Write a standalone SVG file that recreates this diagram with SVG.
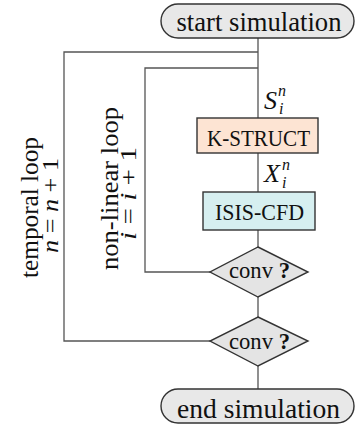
<svg xmlns="http://www.w3.org/2000/svg" width="356" height="425" viewBox="0 0 356 425" font-family="'Liberation Serif', 'DejaVu Serif', serif">
<style>
text{font-family:'Liberation Serif','DejaVu Serif',serif;fill:#111}
.node{stroke:#333;stroke-width:1.4}
.term{fill:#e8e8e8}
.dia{fill:#e4e4e4}
.lbl{text-anchor:middle}
.conn{fill:none;stroke:#555;stroke-width:1.3}
.mi{font-style:italic}
</style>
<rect width="356" height="425" fill="#fff"/>
<g id="connectors">
<path class="conn" d="M258 38V118M258 153V192M258 230V247M258 297V317M258 366V389"/>
<path class="conn" d="M258 52H64V341H210"/>
<path class="conn" d="M258 68H145V272H210"/>
</g>
<g id="start">
<rect class="node term" x="161" y="4" width="193" height="34" rx="17" ry="17"/>
<text class="lbl" x="259" y="31" font-size="28" textLength="165" lengthAdjust="spacingAndGlyphs">start simulation</text>
</g>
<g id="kstruct">
<rect class="node" fill="#fde4d3" x="197" y="118" width="121" height="35"/>
<text class="lbl" x="258.5" y="146" font-size="24" textLength="103" lengthAdjust="spacingAndGlyphs">K-STRUCT</text>
</g>
<g id="isiscfd">
<rect class="node" fill="#d6eff0" x="203" y="192" width="112" height="38"/>
<text class="lbl" x="259.5" y="220" font-size="24" textLength="89" lengthAdjust="spacingAndGlyphs">ISIS-CFD</text>
</g>
<g id="conv1">
<polygon class="node dia" points="258,247 308,272 258,297 210,272"/>
<text class="lbl" x="259.5" y="278" font-size="23" textLength="61" lengthAdjust="spacingAndGlyphs">conv  <tspan font-weight="bold">?</tspan></text>
</g>
<g id="conv2">
<polygon class="node dia" points="258,317 308,341 258,366 210,341"/>
<text class="lbl" x="259.5" y="349" font-size="23" textLength="61" lengthAdjust="spacingAndGlyphs">conv  <tspan font-weight="bold">?</tspan></text>
</g>
<g id="end">
<rect class="node term" x="161" y="389" width="193" height="34" rx="17" ry="17"/>
<text class="lbl" x="258.5" y="418" font-size="28" textLength="163" lengthAdjust="spacingAndGlyphs">end simulation</text>
</g>
<g id="labels">
<text class="mi" x="264" y="109" font-size="26">S</text>
<text class="mi" x="278" y="96" font-size="16">n</text>
<text class="mi" x="279" y="114" font-size="16">i</text>
<text class="mi" x="264" y="182" font-size="26">X</text>
<text class="mi" x="282" y="170" font-size="16">n</text>
<text class="mi" x="282" y="188" font-size="16">i</text>
<text class="lbl" transform="translate(38 207.5) rotate(-90)" font-size="26" textLength="141" lengthAdjust="spacingAndGlyphs">temporal loop</text>
<text class="lbl" transform="translate(58 205.5) rotate(-90)" font-size="23" textLength="95" lengthAdjust="spacingAndGlyphs"><tspan class="mi">n</tspan> = <tspan class="mi">n</tspan> + 1</text>
<text class="lbl" transform="translate(118 188.5) rotate(-90)" font-size="26" textLength="163" lengthAdjust="spacingAndGlyphs">non-linear loop</text>
<text class="lbl" transform="translate(136 193.5) rotate(-90)" font-size="23" textLength="93" lengthAdjust="spacingAndGlyphs"><tspan class="mi">i</tspan> = <tspan class="mi">i</tspan> + 1</text>
</g>
</svg>
